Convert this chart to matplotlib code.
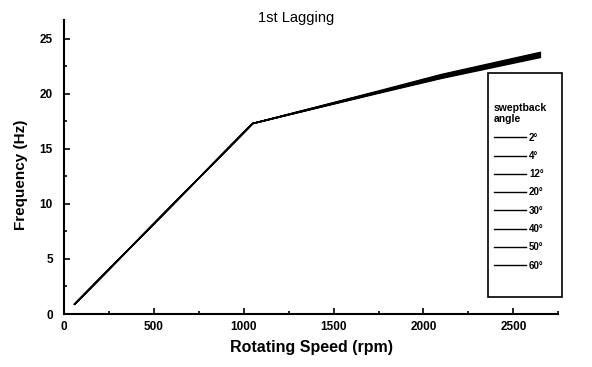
import matplotlib
matplotlib.use("Agg")
import matplotlib.pyplot as plt
from matplotlib.ticker import MultipleLocator
from matplotlib.patches import Rectangle

plt.rcParams['font.family'] = ['Liberation Sans', 'DejaVu Sans']

# Data
rpm = [60, 1050, 1750, 2100, 2650]
angles = ["2°", "4°", "12°", "20°", "30°", "40°", "50°", "60°"]
freq_2 = [0.9, 17.3, 20.05, 21.4, 23.3]
freq_4 = [0.9, 17.3, 20.1, 21.45, 23.38]
freq_12 = [0.9, 17.3, 20.1, 21.5, 23.45]
freq_20 = [0.9, 17.3, 20.15, 21.55, 23.52]
freq_30 = [0.9, 17.3, 20.15, 21.6, 23.58]
freq_40 = [0.9, 17.3, 20.2, 21.65, 23.64]
freq_50 = [0.9, 17.3, 20.2, 21.7, 23.7]
freq_60 = [0.9, 17.3, 20.25, 21.75, 23.76]
series = [freq_2, freq_4, freq_12, freq_20, freq_30, freq_40, freq_50, freq_60]

fig = plt.figure(figsize=(5.92, 3.67), dpi=100)
ax = fig.add_axes([0.108, 0.1444, 0.835, 0.801])

for lab, ys in zip(angles, series):
    ax.plot(rpm, ys, color='black', lw=1.1, label=lab)

ax.set_xlim(0, 2750)
ax.set_ylim(0, 26.7)
ax.xaxis.set_major_locator(MultipleLocator(500))
ax.xaxis.set_minor_locator(MultipleLocator(250))
ax.yaxis.set_major_locator(MultipleLocator(5))
ax.yaxis.set_minor_locator(MultipleLocator(2.5))
ax.tick_params(which='both', direction='in', width=1.2, labelsize=8.5)
ax.tick_params(axis='y', pad=8)
ax.tick_params(axis='x', pad=5)
ax.tick_params(which='major', length=4)
ax.tick_params(which='minor', length=2.5)
for lbl in ax.get_xticklabels() + ax.get_yticklabels():
    lbl.set_fontweight('bold')
ax.spines['top'].set_visible(False)
ax.spines['right'].set_visible(False)
ax.spines['left'].set_linewidth(1.5)
ax.spines['bottom'].set_linewidth(1.5)

ax.set_xlabel("Rotating Speed (rpm)", fontsize=11.5, fontweight='bold', labelpad=5)
ax.set_ylabel("Frequency (Hz)", fontsize=11, fontweight='bold')
ax.yaxis.set_label_coords(-0.072, 0.473)

fig.text(0.5, 0.951, "1st Lagging", ha='center', va='center', fontsize=10.5)

# legend box
box = Rectangle((0.858, 0.058), 0.150, 0.762, transform=ax.transAxes,
                fill=True, facecolor='white', edgecolor='black', lw=1.2,
                clip_on=False, zorder=3)
ax.add_patch(box)

leg = ax.legend(title="sweptback\nangle", loc='upper left',
                bbox_to_anchor=(0.860, 0.735), frameon=False,
                fontsize=7, title_fontsize=7.5,
                handlelength=3.3, handletextpad=0.3, labelspacing=0.85,
                borderpad=0.5, borderaxespad=0)
leg.set_zorder(4)
leg._legend_box.align = "left"
leg.get_title().set_fontweight('bold')
for t in leg.get_texts():
    t.set_fontweight('bold')
for h in leg.get_lines():
    h.set_linewidth(1.0)

fig.savefig("out.png", dpi=100)
